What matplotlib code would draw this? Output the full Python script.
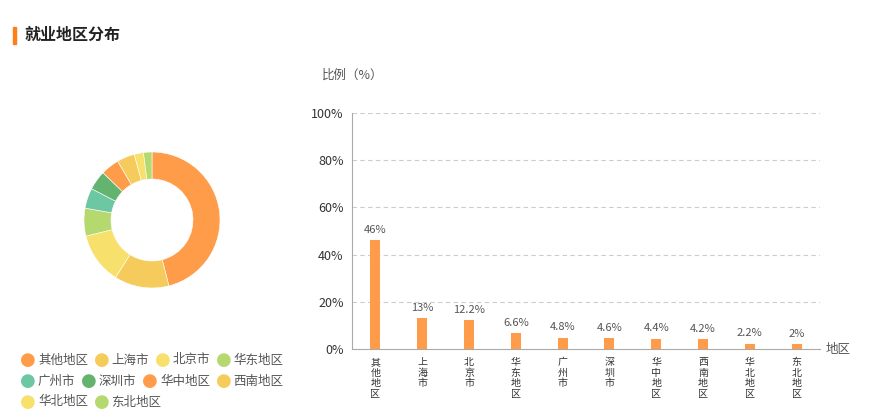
import matplotlib
matplotlib.use("Agg")
import matplotlib.pyplot as plt
from matplotlib.patches import Rectangle

plt.rcParams['font.family'] = ['Noto Sans CJK SC', 'DejaVu Sans']

regions = ["其他地区", "上海市", "北京市", "华东地区", "广州市", "深圳市",
           "华中地区", "西南地区", "华北地区", "东北地区"]
shares = [46, 13, 12.2, 6.6, 4.8, 4.6, 4.4, 4.2, 2.2, 2]
share_labels = ["46%", "13%", "12.2%", "6.6%", "4.8%", "4.6%", "4.4%", "4.2%", "2.2%", "2%"]
pie_colors = ["#FF9C4A", "#F5CB5C", "#F7E06B", "#B5D96F", "#6DC7A3",
              "#62B46E", "#FF9C4A", "#F5CB5C", "#F7E06B", "#B5D96F"]
yticks = [0, 20, 40, 60, 80, 100]

W, H = 882, 416
fig = plt.figure(figsize=(W / 100, H / 100), dpi=100)

# title with orange marker
fig.patches.append(Rectangle((13 / W, 1 - 44 / H), 2.5 / W, 17 / H,
                             transform=fig.transFigure, color="#FF7F17"))
fig.text(25 / W, 1 - 35 / H, "就业地区分布", fontsize=11.5, fontweight="bold",
         color="#222222", va="center", ha="left")

# donut
pax = fig.add_axes([(152 - 70) / W, 1 - (220 + 70) / H, 140 / W, 140 / H])
pax.pie(shares, colors=pie_colors, startangle=90, counterclock=False,
        radius=68 / 70, wedgeprops=dict(width=27 / 70, edgecolor="white", linewidth=0.4))
pax.set_xlim(-1, 1)
pax.set_ylim(-1, 1)
pax.set_aspect("equal")
pax.axis("off")

# legend (flow layout)
rows_y = [360, 381, 402]
x, row = 28, 0
for name, col in zip(regions, pie_colors):
    w = 23.5 + 12.5 * len(name)
    if x + w > 300:
        x, row = 28, row + 1
    y = rows_y[row]
    fig.text(x / W, 1 - y / H, "●", color=col, fontsize=13, ha="center", va="center",
             family=["DejaVu Sans"])
    fig.text((x + 10) / W, 1 - y / H, name, color="#555555", fontsize=9,
             ha="left", va="center")
    x += w

# bar chart
ax = fig.add_axes([352 / W, 1 - 349 / H, (820 - 352) / W, (349 - 113) / H])
pos = list(range(len(regions)))
ax.bar(pos, shares, width=0.21, color="#FF9C4A", zorder=3)
for p, v, lab in zip(pos, shares, share_labels):
    ax.annotate(lab, (p, v), xytext=(0, 4), textcoords="offset points",
                ha="center", va="bottom", fontsize=8, color="#555555")
ax.set_xlim(-0.5, len(regions) - 0.5)
ax.set_ylim(0, 100)
ax.set_yticks(yticks)
ax.set_yticklabels([f"{t}%" for t in yticks], fontsize=9, color="#333333")
ax.set_xticks(pos)
ax.set_xticklabels(["\n".join(r) for r in regions], fontsize=7.2, color="#333333",
                   linespacing=1.05, va="top")
ax.tick_params(axis="both", length=0, pad=6)
ax.tick_params(axis="x", pad=6)
for t in yticks[1:]:
    ax.axhline(t, color="#cccccc", linestyle=(0, (4, 3)), linewidth=0.8, zorder=1)
for s in ["top", "right"]:
    ax.spines[s].set_visible(False)
for s in ["left", "bottom"]:
    ax.spines[s].set_color("#aaaaaa")
    ax.spines[s].set_linewidth(0.8)

fig.text(322 / W, 1 - 75 / H, "比例（%）", fontsize=9, color="#555555",
         ha="left", va="center")
fig.text(826 / W, 1 - 349 / H, "地区", fontsize=9, color="#555555",
         ha="left", va="center")

fig.savefig("out.png", dpi=100)
